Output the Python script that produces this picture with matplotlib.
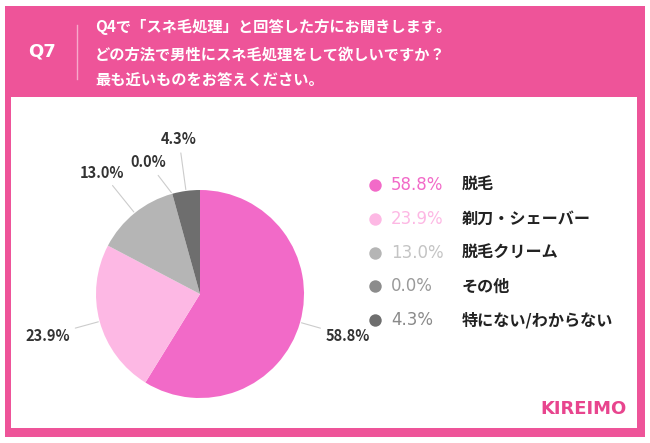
import matplotlib.pyplot as plt
import matplotlib.patches as mpatches
import numpy as np

plt.rcParams['font.family'] = ['Noto Sans CJK JP', 'DejaVu Sans']

# data
labels = ['脱毛', '剃刀・シェーバー', '脱毛クリーム', 'その他', '特にない/わからない']
values = [58.8, 23.9, 13.0, 0.0, 4.3]
colors = ['#F26AC8', '#FDB8E4', '#B5B5B5', '#8C8C8C', '#6E6E6E']
pct_colors = ['#F26AC8', '#FDB8E4', '#C4C4C4', '#9A9A9A', '#8A8A8A']
question = ['Q4で「スネ毛処理」と回答した方にお聞きします。',
            'どの方法で男性にスネ毛処理をして欲しいですか？',
            '最も近いものをお答えください。']

W, H = 650, 443
fig = plt.figure(figsize=(W / 100, H / 100), dpi=100)

# background frame in pixel coords
bg = fig.add_axes([0, 0, 1, 1])
bg.set_xlim(0, W)
bg.set_ylim(H, 0)
bg.axis('off')
bg.add_patch(mpatches.Rectangle((5, 6), 640, 431, color='#EE5499', lw=0))
bg.add_patch(mpatches.Rectangle((11, 97), 626, 331, color='white', lw=0))

# header
bg.text(42, 51, 'Q7', color='white', fontsize=13, fontweight='bold',
        ha='center', va='center', family=['DejaVu Sans'])
bg.plot([77, 77], [25, 79], color='#F7A9CB', lw=1)
for i, line in enumerate(question):
    bg.text(95, 27 + i * 27, line, color='white', fontsize=11,
            fontweight='bold', ha='left', va='center')

# pie
cx, cy, r = 200, 294, 104
pax = fig.add_axes([(cx - r) / W, (H - cy - r) / H, 2 * r / W, 2 * r / H])
wedges, _ = pax.pie(values, colors=colors, startangle=90, counterclock=False,
                    radius=1, wedgeprops=dict(lw=0))
pax.set_xlim(-1, 1)
pax.set_ylim(-1, 1)
pax.axis('off')

# outside labels with leader lines
text_r = [1.48, 1.52, 1.5, 1.36, 1.5]
shift = [0, 0, 0, 6, 0]
for w, v, tr, sh in zip(wedges, values, text_r, shift):
    ang = np.deg2rad((w.theta1 + w.theta2) / 2)
    ta = ang + np.deg2rad(sh)
    pax.annotate(f'{v:.1f}%', xy=(1.0 * np.cos(ang), 1.0 * np.sin(ang)),
                 xytext=(tr * np.cos(ta), tr * np.sin(ta)),
                 ha='center', va='center', fontsize=10.5, fontweight='bold',
                 color='#333333', annotation_clip=False,
                 arrowprops=dict(arrowstyle='-', color='#CCCCCC', lw=0.8,
                                 shrinkA=2, shrinkB=1))

# legend
for i, (lab, v, c, pc) in enumerate(zip(labels, values, colors, pct_colors)):
    y = 185 + i * 33.8
    bg.scatter([375], [y], s=80, color=c, lw=0)
    bg.text(391, y, f'{v:.1f}%', color=pc, fontsize=12, ha='left',
            va='center', family=['DejaVu Sans'])
    bg.text(462, y, lab, color='#222222', fontsize=11.6, fontweight='bold',
            ha='left', va='center')

# logo
bg.text(583, 409, 'KIREIMO', color='#E8458E', fontsize=13, fontweight='bold',
        ha='center', va='center', family=['DejaVu Sans'])

fig.savefig('out.png', dpi=100)
